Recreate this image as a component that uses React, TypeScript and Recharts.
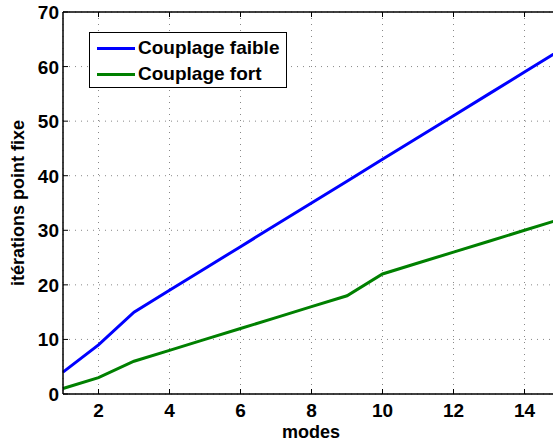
import { LineChart, Line, XAxis, YAxis, CartesianGrid, ReferenceLine, Label } from 'recharts'

const modes = [1, 2, 3, 4, 5, 6, 7, 8, 9, 10, 11, 12, 13, 14, 15]
const faible = [4, 9, 15, 19, 23, 27, 31, 35, 39, 43, 47, 51, 55, 59, 63]
const fort = [1, 3, 6, 8, 10, 12, 14, 16, 18, 22, 24, 26, 28, 30, 32]
const xTicks = [2, 4, 6, 8, 10, 12, 14]
const yTicks = [0, 10, 20, 30, 40, 50, 60, 70]
const seriesNames = ['Couplage faible', 'Couplage fort']
const seriesColors = ['#0000ff', '#008000']

const data = modes.map((m, i) => ({ mode: m, faible: faible[i], fort: fort[i] }))

const FONT = '"Liberation Sans", Arial, Helvetica, sans-serif'
const PLOT_TOP = 12

const XTick = (props: any) => {
    const { x, y, payload } = props
    return (
        <g>
            <line x1={x} x2={x} y1={y} y2={y - 5} stroke="#000" />
            <line x1={x} x2={x} y1={PLOT_TOP} y2={PLOT_TOP + 5} stroke="#000" />
            <text x={x} y={y + 23} textAnchor="middle" fontFamily={FONT} fontWeight="bold" fontSize={19} fill="#000">
                {payload.value}
            </text>
        </g>
    )
}

const YTick = (props: any) => {
    const { x, y, payload } = props
    return (
        <g>
            <line x1={x} x2={x + 5} y1={y} y2={y} stroke="#000" />
            <text x={x - 4} y={y + 7} textAnchor="end" fontFamily={FONT} fontWeight="bold" fontSize={19} fill="#000">
                {payload.value}
            </text>
        </g>
    )
}

export default function App() {
    return (
        <div style={{ position: 'fixed', left: 0, top: 0, width: 553, height: 444, overflow: 'hidden', background: '#fff' }}>
            <LineChart width={580} height={444} data={data} margin={{ top: PLOT_TOP, right: 20, bottom: 0, left: 0 }}>
                <CartesianGrid stroke="#888" strokeDasharray="1 5" />
                <XAxis
                    dataKey="mode"
                    type="number"
                    domain={[1, 15]}
                    ticks={xTicks}
                    height={50}
                    tickSize={0}
                    tickMargin={0}
                    tickLine={false}
                    tick={<XTick />}
                    axisLine={{ stroke: '#000', strokeWidth: 1.5 }}
                >
                    <Label
                        content={() => (
                            <text x={311} y={438} textAnchor="middle" fontFamily={FONT} fontWeight="bold" fontSize={18} fill="#000">
                                modes
                            </text>
                        )}
                    />
                </XAxis>
                <YAxis
                    type="number"
                    domain={[0, 70]}
                    ticks={yTicks}
                    width={63}
                    tickSize={0}
                    tickMargin={0}
                    tickLine={false}
                    tick={<YTick />}
                    axisLine={{ stroke: '#000', strokeWidth: 1.5 }}
                >
                    <Label
                        content={() => (
                            <text x={24} y={203} transform="rotate(-90 24 203)" textAnchor="middle" fontFamily={FONT} fontWeight="bold" fontSize={18} fill="#000">
                                itérations point fixe
                            </text>
                        )}
                    />
                </YAxis>
                <ReferenceLine y={70} stroke="#000" strokeWidth={1.5} />
                <ReferenceLine x={15} stroke="#000" strokeWidth={1.5} />
                <Line dataKey="faible" name={seriesNames[0]} stroke={seriesColors[0]} strokeWidth={3} dot={false} isAnimationActive={false} />
                <Line dataKey="fort" name={seriesNames[1]} stroke={seriesColors[1]} strokeWidth={3} dot={false} isAnimationActive={false} />
            </LineChart>
            {/* légende façon matlab */}
            <div
                style={{
                    position: 'absolute',
                    left: 89,
                    top: 32,
                    width: 198,
                    height: 56,
                    boxSizing: 'border-box',
                    border: '1.5px solid #000',
                    background: '#fff',
                    fontFamily: FONT,
                    fontWeight: 'bold',
                    fontSize: 19,
                }}
            >
                {seriesNames.map((name, i) => (
                    <div key={name} style={{ position: 'absolute', left: 7, top: 4 + i * 26.3, height: 22, display: 'flex', alignItems: 'center', whiteSpace: 'nowrap' }}>
                        <span style={{ display: 'inline-block', width: 38, height: 3, background: seriesColors[i], marginRight: 3 }} />
                        <span>{name}</span>
                    </div>
                ))}
            </div>
        </div>
    )
}
